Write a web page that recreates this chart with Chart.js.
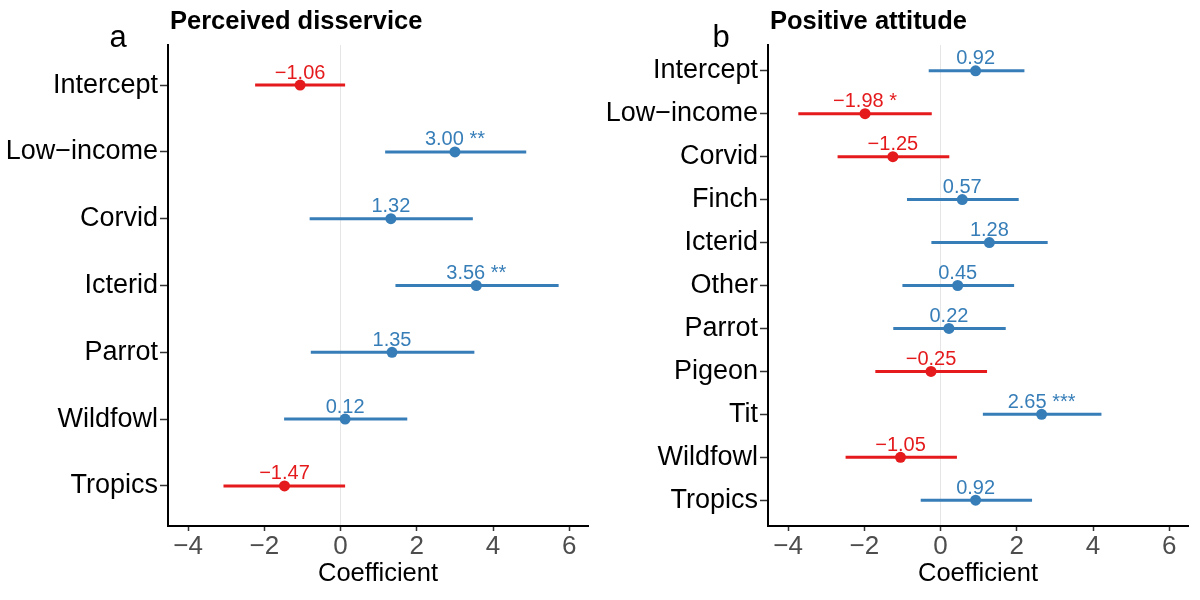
<!DOCTYPE html>
<html>
<head>
<meta charset="utf-8">
<script src="https://cdn.jsdelivr.net/npm/chart.js@4.4.1/dist/chart.umd.min.js"></script>
<style>
  html, body { margin: 0; padding: 0; background: #ffffff; }
  #wrap { position: relative; width: 1200px; height: 600px; }
  .panel { position: absolute; top: 0; width: 600px; height: 600px; }
</style>
</head>
<body>
<div id="wrap">
  <div class="panel" style="left:0px"><canvas id="chartA"></canvas></div>
  <div class="panel" style="left:600px"><canvas id="chartB"></canvas></div>
</div>
<script>
// ---------- Data ----------
const catsA  = ['Intercept', 'Low\u2212income', 'Corvid', 'Icterid', 'Parrot', 'Wildfowl', 'Tropics'];
const coefA  = [-1.06, 3.00, 1.32, 3.56, 1.35, 0.12, -1.47];
const loA    = [-2.24, 1.17, -0.81, 1.44, -0.78, -1.48, -3.07];
const hiA    = [0.12, 4.87, 3.47, 5.72, 3.51, 1.75, 0.12];
const starsA = ['', '**', '', '**', '', '', ''];

const catsB  = ['Intercept', 'Low\u2212income', 'Corvid', 'Finch', 'Icterid', 'Other', 'Parrot', 'Pigeon', 'Tit', 'Wildfowl', 'Tropics'];
const coefB  = [0.92, -1.98, -1.25, 0.57, 1.28, 0.45, 0.22, -0.25, 2.65, -1.05, 0.92];
const loB    = [-0.31, -3.73, -2.70, -0.88, -0.24, -1.00, -1.24, -1.71, 1.11, -2.49, -0.52];
const hiB    = [2.20, -0.23, 0.23, 2.05, 2.81, 1.93, 1.71, 1.22, 4.22, 0.43, 2.40];
const starsB = ['', '*', '', '', '', '', '', '', '***', '', ''];

const xTicks = [-4, -2, 0, 2, 4, 6];
const titleA = 'Perceived disservice';
const titleB = 'Positive attitude';
const letterA = 'a';
const letterB = 'b';

// ---------- Styling ----------
const RED = '#E41A1C';
const BLUE = '#377EB8';
const FONT = '"Liberation Sans", Arial, Helvetica, sans-serif';

function fmt(v, s) {
  const t = v.toFixed(2).replace('-', '\u2212');
  return s ? t + ' ' + s : t;
}

const labelPlugin = {
  id: 'valueLabels',
  afterDatasetsDraw(chart, args, opts) {
    const ctx = chart.ctx;
    const meta = chart.getDatasetMeta(opts.pointIndex);
    ctx.save();
    ctx.font = '20px ' + FONT;
    ctx.textAlign = 'center';
    ctx.textBaseline = 'alphabetic';
    meta.data.forEach((el, i) => {
      ctx.fillStyle = opts.coef[i] < 0 ? RED : BLUE;
      ctx.fillText(fmt(opts.coef[i], opts.stars[i]), el.x, el.y - 6.5);
    });
    ctx.restore();
  }
};

const headPlugin = {
  id: 'heads',
  afterDraw(chart, args, opts) {
    const ctx = chart.ctx;
    ctx.save();
    ctx.fillStyle = '#000';
    ctx.textBaseline = 'alphabetic';
    ctx.textAlign = 'left';
    ctx.font = 'bold 25.5px ' + FONT;
    ctx.fillText(opts.title, 170, 28.5);
    ctx.textAlign = 'center';
    ctx.font = '31px ' + FONT;
    ctx.fillText(opts.letter, opts.letterX, 47);
    ctx.restore();
  }
};

function makeChart(id, cats, coef, lo, hi, stars, title, letter, letterX) {
  const datasets = [];
  cats.forEach((c, i) => {
    const col = coef[i] < 0 ? RED : BLUE;
    datasets.push({
      type: 'line',
      data: [{ x: lo[i], y: i }, { x: hi[i], y: i }],
      borderColor: col,
      borderWidth: 3,
      borderCapStyle: 'butt',
      pointRadius: 0,
      fill: false,
      tension: 0
    });
  });
  const pointIndex = datasets.length;
  datasets.push({
    type: 'scatter',
    data: coef.map((v, i) => ({ x: v, y: i })),
    backgroundColor: coef.map(v => v < 0 ? RED : BLUE),
    borderColor: coef.map(v => v < 0 ? RED : BLUE),
    borderWidth: 0,
    pointRadius: 5.5
  });

  return new Chart(document.getElementById(id), {
    data: { datasets },
    options: {
      responsive: true,
      maintainAspectRatio: false,
      animation: false,
      events: [],
      layout: { padding: { top: 45, right: 12, bottom: 0, left: 0 } },
      plugins: {
        legend: { display: false },
        tooltip: { enabled: false },
        valueLabels: { pointIndex, coef, stars },
        heads: { title, letter, letterX }
      },
      scales: {
        x: {
          type: 'linear',
          min: -4.525,
          max: 6.49,
          afterBuildTicks: (s) => { s.ticks = xTicks.map(v => ({ value: v })); },
          afterFit: (s) => { s.height = 74; },
          ticks: {
            font: { size: 26, family: FONT },
            color: '#4D4D4D',
            padding: 0,
            callback: (v) => String(v).replace('-', '\u2212')
          },
          grid: {
            drawOnChartArea: true,
            color: (c) => (c.tick && c.tick.value === 0) ? '#E6E6E6' : 'rgba(0,0,0,0)',
            lineWidth: 1,
            tickLength: 5,
            tickColor: '#333333',
            tickWidth: 1.5
          },
          border: { display: true, color: '#000000', width: 2 },
          title: {
            display: true,
            text: 'Coefficient',
            color: '#000000',
            font: { size: 25.5, family: FONT },
            padding: { top: 0, bottom: 10.7 }
          }
        },
        y: {
          type: 'linear',
          reverse: true,
          min: -0.6,
          max: cats.length - 1 + 0.6,
          afterBuildTicks: (s) => { s.ticks = cats.map((_, i) => ({ value: i })); },
          afterFit: (s) => { s.width = 168; },
          ticks: {
            font: { size: 27, family: FONT },
            color: '#000000',
            padding: 2,
            autoSkip: false,
            callback: (v) => cats[v]
          },
          grid: {
            drawOnChartArea: false,
            tickLength: 8,
            tickColor: '#333333',
            tickWidth: 1.5
          },
          border: { display: true, color: '#000000', width: 2 }
        }
      }
    },
    plugins: [labelPlugin, headPlugin]
  });
}

makeChart('chartA', catsA, coefA, loA, hiA, starsA, titleA, letterA, 118);
makeChart('chartB', catsB, coefB, loB, hiB, starsB, titleB, letterB, 121);
</script>
</body>
</html>
